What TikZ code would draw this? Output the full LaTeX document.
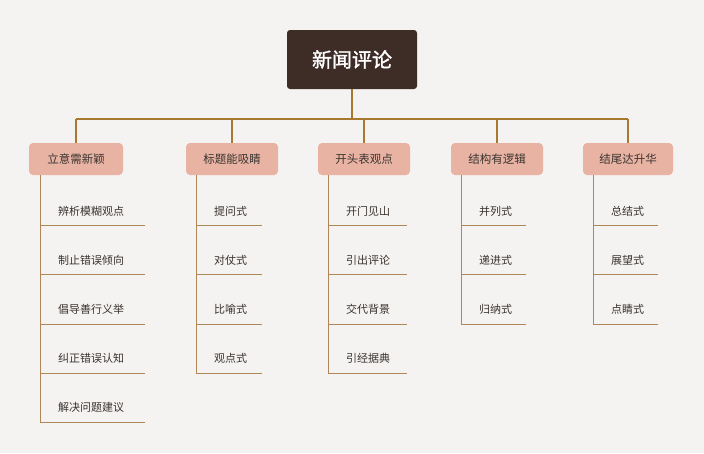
\documentclass[tikz,border=0pt]{standalone}
\usepackage{fontspec}
\setmainfont{Noto Sans CJK SC}
\newfontfamily\cjkb[FakeBold=1.5]{Noto Sans CJK SC}
\begin{document}
\begin{tikzpicture}[x=1pt,y=-1pt,
  rootbox/.style={fill=rootc,rounded corners=3pt,minimum width=130pt,minimum height=59pt,text=white,font=\cjkb\fontsize{20}{24}\selectfont},
  catbox/.style={fill=catc,rounded corners=4pt,minimum width=92pt,minimum height=32pt,text=txt,font=\fontsize{11.5}{14}\selectfont},
  leaf/.style={anchor=west,text=txt,font=\fontsize{11}{13}\selectfont,inner sep=0pt},
  link/.style={draw=linkc,line width=1.6pt},
  lline/.style={draw=leafc,line width=0.8pt}]
\definecolor{rootc}{HTML}{3E2D27}
\definecolor{catc}{HTML}{E8B3A2}
\definecolor{txt}{HTML}{3A3330}
\definecolor{linkc}{HTML}{A8782E}
\definecolor{leafc}{HTML}{B08858}
\fill[fill={rgb,255:red,245;green,243;blue,241}] (0,0) rectangle (704,453);
\useasboundingbox (0,0) rectangle (704,453);
\node[rootbox] (root) at (352,59.5) {新闻评论};
\coordinate (bus) at (352,119);
\foreach \n/\x/\w/\t in {c1/76/94/立意需新颖,c2/232/92/标题能吸睛,c3/364/92/开头表观点,c4/497/92/结构有逻辑,c5/628/90/结尾达升华}{
  \node[catbox,minimum width=\w pt] (\n) at (\x,159) {\t};
  \coordinate (\n t) at (\x,119);
  \draw[link] (\n t) -- (\n.north);
}
\draw[link] (root.south) -- (bus);
\draw[link] (c1t) -- (c5t);
% leaves
\foreach \c/\lx/\rx/\items in {c1/40/145/{辨析模糊观点,制止错误倾向,倡导善行义举,纠正错误认知,解决问题建议},
  c2/196/262/{提问式,对仗式,比喻式,观点式},
  c3/328/407/{开门见山,引出评论,交代背景,引经据典},
  c4/461/526/{并列式,递进式,归纳式},
  c5/593/658/{总结式,展望式,点睛式}}{
  \foreach \t [count=\i] in \items {
    \pgfmathsetmacro{\yy}{211+49.2*(\i-1)}
    \pgfmathsetmacro{\yl}{225.5+49.2*(\i-1)}
    \node[leaf] (\c l\i) at (\lx+18,\yy) {\t};
    \coordinate (\c a\i) at (\lx,\yl);
    \coordinate (\c b\i) at (\rx,\yl);
    \draw[lline] (\c a\i) -- (\c b\i);
    \xdef\lastc{\c a\i}
  }
  \coordinate (\c top) at (\lx,175);
  \draw[lline] (\c top) -- (\lastc);
}
\end{tikzpicture}
\end{document}
